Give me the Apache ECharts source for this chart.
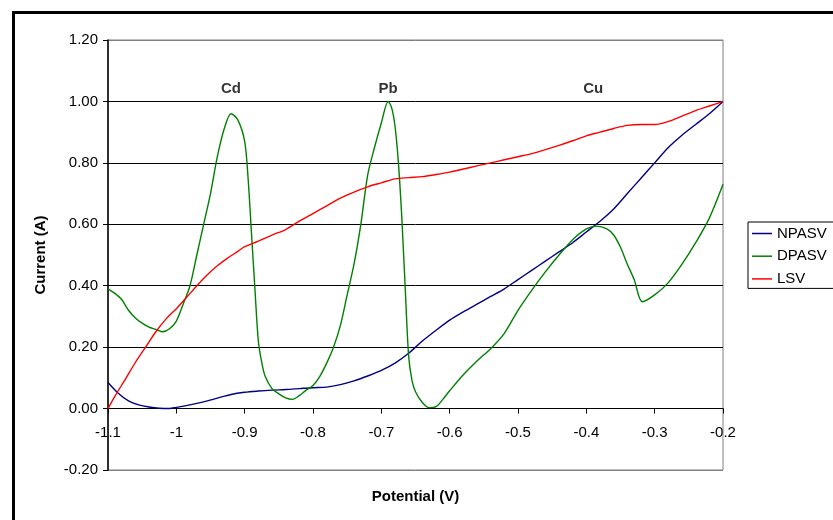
<!DOCTYPE html>
<html>
<head>
<meta charset="utf-8">
<script src="https://cdn.jsdelivr.net/npm/echarts@6/dist/echarts.min.js"></script>
<style>
  html, body { margin: 0; padding: 0; background: #fff; }
  #chart { width: 833px; height: 520px; }
</style>
</head>
<body>
<div id="chart"></div>
<script>
// Stripping voltammetry: normal pulse, differential pulse and linear sweep
const npasvPotential = [-1.1, -1.085, -1.07, -1.055, -1.04, -1.025, -1.01, -1.0, -0.98, -0.96, -0.94, -0.92, -0.9, -0.88, -0.86, -0.84, -0.82, -0.8, -0.78, -0.76, -0.74, -0.72, -0.7, -0.68, -0.66, -0.64, -0.62, -0.6, -0.58, -0.56, -0.54, -0.52, -0.5, -0.48, -0.46, -0.44, -0.42, -0.4, -0.38, -0.36, -0.34, -0.32, -0.3, -0.28, -0.26, -0.24, -0.22, -0.2];
const npasvCurrent = [0.085, 0.05, 0.025, 0.012, 0.005, 0.001, 0.0, 0.004, 0.012, 0.022, 0.034, 0.046, 0.053, 0.057, 0.06, 0.062, 0.065, 0.068, 0.07, 0.078, 0.09, 0.106, 0.124, 0.148, 0.18, 0.22, 0.255, 0.288, 0.315, 0.34, 0.365, 0.39, 0.42, 0.45, 0.48, 0.51, 0.54, 0.575, 0.61, 0.65, 0.7, 0.75, 0.8, 0.85, 0.89, 0.925, 0.96, 1.0];

const dpasvPotential = [-1.1, -1.09, -1.08, -1.07, -1.06, -1.05, -1.04, -1.03, -1.02, -1.01, -1.0, -0.99, -0.98, -0.97, -0.96, -0.95, -0.94, -0.93, -0.92, -0.91, -0.9, -0.895, -0.89, -0.885, -0.88, -0.875, -0.87, -0.86, -0.85, -0.84, -0.83, -0.82, -0.81, -0.8, -0.79, -0.78, -0.77, -0.76, -0.75, -0.74, -0.73, -0.72, -0.71, -0.7, -0.69, -0.685, -0.68, -0.675, -0.67, -0.665, -0.66, -0.655, -0.65, -0.64, -0.63, -0.62, -0.61, -0.6, -0.58, -0.56, -0.54, -0.52, -0.5, -0.48, -0.46, -0.44, -0.42, -0.4, -0.385, -0.37, -0.36, -0.35, -0.34, -0.33, -0.318, -0.3, -0.28, -0.26, -0.24, -0.22, -0.2];
const dpasvCurrent = [0.39, 0.375, 0.355, 0.32, 0.295, 0.278, 0.265, 0.258, 0.25, 0.26, 0.285, 0.34, 0.4, 0.5, 0.6, 0.7, 0.82, 0.91, 0.96, 0.94, 0.87, 0.75, 0.57, 0.39, 0.22, 0.15, 0.105, 0.065, 0.048, 0.035, 0.03, 0.042, 0.06, 0.075, 0.105, 0.148, 0.2, 0.27, 0.37, 0.47, 0.6, 0.76, 0.85, 0.93, 1.0, 0.98, 0.92, 0.8, 0.62, 0.39, 0.17, 0.09, 0.055, 0.02, 0.003, 0.006, 0.03, 0.058, 0.11, 0.155, 0.195, 0.245, 0.32, 0.385, 0.445, 0.5, 0.55, 0.585, 0.594, 0.585, 0.565, 0.525, 0.47, 0.42, 0.348, 0.37, 0.41, 0.47, 0.54, 0.62, 0.73];

const lsvPotential = [-1.1, -1.09, -1.075, -1.06, -1.045, -1.03, -1.015, -1.0, -0.985, -0.97, -0.955, -0.94, -0.925, -0.91, -0.9, -0.88, -0.86, -0.84, -0.82, -0.8, -0.78, -0.76, -0.74, -0.72, -0.7, -0.68, -0.66, -0.64, -0.62, -0.6, -0.58, -0.56, -0.54, -0.52, -0.5, -0.48, -0.46, -0.44, -0.42, -0.4, -0.38, -0.36, -0.34, -0.32, -0.3, -0.28, -0.26, -0.24, -0.22, -0.2];
const lsvCurrent = [0.0, 0.04, 0.094, 0.15, 0.2, 0.25, 0.292, 0.325, 0.362, 0.4, 0.435, 0.465, 0.49, 0.512, 0.527, 0.545, 0.565, 0.583, 0.61, 0.635, 0.66, 0.685, 0.705, 0.722, 0.735, 0.748, 0.752, 0.755, 0.762, 0.77, 0.78, 0.79, 0.8, 0.81, 0.82, 0.83, 0.843, 0.857, 0.872, 0.888, 0.9, 0.912, 0.922, 0.925, 0.925, 0.935, 0.952, 0.97, 0.985, 1.0];

// Metal stripping peaks labelled above the curves
const peakNames = ['Cd', 'Pb', 'Cu'];
const peakPotential = [-0.92, -0.69, -0.39];
const peakLabelLevel = [1.04, 1.04, 1.04];

const seriesNames = ['NPASV', 'DPASV', 'LSV'];
const seriesColors = ['#000080', '#008000', '#FF0000'];

const Y_MIN = -0.2, Y_MAX = 1.2;
const FONT = "'Liberation Sans', Arial, sans-serif";

function pairs(xs, ys) {
  return xs.map((x, i) => [x, ys[i]]);
}

function lineSeries(name, color, xs, ys) {
  return {
    name: name,
    type: 'line',
    data: pairs(xs, ys),
    symbol: 'none',
    smooth: 0.3,
    lineStyle: { color: color, width: 1.4 },
    itemStyle: { color: color },
    silent: true,
    z: 3
  };
}

// plot box in pixels
const GRID = { left: 108, right: 110, top: 40, bottom: 50 };
const plotHeight = 520 - GRID.top - GRID.bottom;
// the potential axis crosses the current axis at zero current
const zeroOffset = -plotHeight * (0 - Y_MIN) / (Y_MAX - Y_MIN);

const chart = echarts.init(document.getElementById('chart'), null, { renderer: 'canvas' });

const gridLineColors = ['#808080', '#000', '#000', '#000', '#000', '#000', '#000', '#808080'];

chart.setOption({
  animation: false,
  backgroundColor: '#fff',
  textStyle: { fontFamily: FONT },
  grid: {
    left: GRID.left, right: GRID.right, top: GRID.top, bottom: GRID.bottom,
    show: true, borderColor: '#808080', borderWidth: 1,
    containLabel: false, outerBoundsMode: 'none'
  },
  xAxis: {
    type: 'value',
    min: -1.1, max: -0.2, interval: 0.1,
    position: 'bottom',
    offset: zeroOffset,
    name: 'Potential (V)',
    nameLocation: 'middle',
    nameGap: 81,
    nameTextStyle: { fontFamily: FONT, fontSize: 15, fontWeight: 'bold', color: '#000' },
    axisLine: { onZero: false, lineStyle: { color: '#000', width: 1 } },
    axisTick: { show: true, inside: false, length: 5, lineStyle: { color: '#000' } },
    axisLabel: {
      fontFamily: FONT, fontSize: 15, color: '#000', margin: 17,
      showMinLabel: true, showMaxLabel: true,
      formatter: v => String(parseFloat(v.toFixed(1)))
    },
    splitLine: { show: false }
  },
  yAxis: {
    type: 'value',
    min: Y_MIN, max: Y_MAX, interval: 0.2,
    name: 'Current (A)',
    nameLocation: 'middle',
    nameRotate: 90,
    nameGap: 60,
    nameTextStyle: { fontFamily: FONT, fontSize: 15, fontWeight: 'bold', color: '#000' },
    axisLine: { show: true, lineStyle: { color: '#000', width: 1.5 } },
    axisTick: { show: true, inside: false, length: 5, lineStyle: { color: '#000' } },
    axisLabel: {
      fontFamily: FONT, fontSize: 15, color: '#000', margin: 10,
      showMinLabel: true, showMaxLabel: true,
      formatter: v => v.toFixed(2)
    },
    splitLine: { show: true, lineStyle: { color: gridLineColors, width: 1 } }
  },
  legend: {
    data: seriesNames,
    orient: 'vertical',
    left: 748, top: 222,
    icon: 'rect',
    itemWidth: 20, itemHeight: 1.5, itemGap: 7.7,
    padding: [4, 8, 2, 4],
    borderColor: '#000', borderWidth: 1,
    backgroundColor: '#fff',
    textStyle: { fontFamily: FONT, fontSize: 15, color: '#000' },
    selectedMode: false
  },
  series: [
    lineSeries(seriesNames[0], seriesColors[0], npasvPotential, npasvCurrent),
    lineSeries(seriesNames[1], seriesColors[1], dpasvPotential, dpasvCurrent),
    lineSeries(seriesNames[2], seriesColors[2], lsvPotential, lsvCurrent),
    {
      name: 'peaks',
      type: 'scatter',
      data: peakNames.map((n, i) => ({ name: n, value: [peakPotential[i], peakLabelLevel[i]] })),
      symbolSize: 1,
      itemStyle: { color: 'transparent' },
      silent: true,
      label: {
        show: true, position: 'inside',
        formatter: p => p.name,
        fontFamily: FONT, fontSize: 15, fontWeight: 'bold', color: '#000'
      },
      z: 4
    }
  ],
  graphic: [{
    type: 'rect',
    shape: { x: 13.5, y: 12.5, width: 900, height: 600 },
    style: { fill: null, stroke: '#000', lineWidth: 3 },
    silent: true,
    z: 100
  }]
});
</script>
</body>
</html>
